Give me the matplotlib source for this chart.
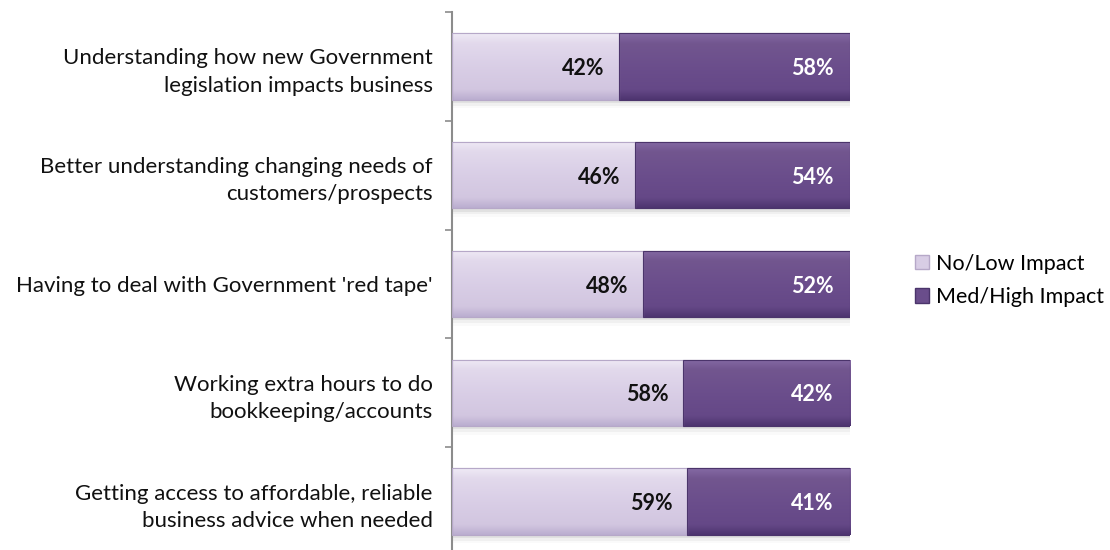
import matplotlib
matplotlib.use("Agg")
import matplotlib.pyplot as plt
from matplotlib.patches import Patch
from matplotlib.colors import LinearSegmentedColormap
import numpy as np

categories = [
    "Understanding how new Government\nlegislation impacts business",
    "Better understanding changing needs of\ncustomers/prospects",
    "Having to deal with Government 'red tape'",
    "Working extra hours to do\nbookkeeping/accounts",
    "Getting access to affordable, reliable\nbusiness advice when needed",
]
no_low = [42, 46, 48, 58, 59]
med_high = [58, 54, 52, 42, 41]
series_names = ["No/Low Impact", "Med/High Impact"]

light = "#D8CDE5"
light_edge = "#B6A8C8"
dark = "#6A4D8B"
dark_edge = "#4B346B"

# top -> bottom shading of each bar segment
light_cmap = LinearSegmentedColormap.from_list(
    "light", [(0.0, "#EFEAF5"), (0.15, "#E2D9EC"), (0.5, "#D9CEE6"),
              (0.85, "#D2C6E0"), (1.0, "#BBAED0")])
dark_cmap = LinearSegmentedColormap.from_list(
    "dark", [(0.0, "#8469A3"), (0.15, "#72568F"), (0.5, "#6B4E8C"),
             (0.85, "#654887"), (1.0, "#4E3570")])

plt.rcParams["font.family"] = ["Lato", "DejaVu Sans"]

fig = plt.figure(figsize=(11.1, 5.5), dpi=100)
ax = fig.add_axes([452 / 1110, -6 / 550, 398 / 1110, 544 / 550])

y = np.arange(len(categories))
h = 0.61

# soft drop shadow under each bar
for yi in y:
    for k, al in enumerate([0.06, 0.04, 0.02]):
        ax.barh(yi + 0.03 + 0.025 * k, 100 + 0.3 * k, left=0.3, height=h,
                color="#000000", alpha=al, zorder=1, linewidth=0)

light_bars = ax.barh(y, no_low, height=h, color=light, edgecolor=light_edge,
                     linewidth=0.8, zorder=2)
dark_bars = ax.barh(y, med_high, left=no_low, height=h, color=dark,
                    edgecolor=dark_edge, linewidth=0.8, zorder=2)

grad = np.linspace(0, 1, 64).reshape(-1, 1)
for bars, cmap in ((light_bars, light_cmap), (dark_bars, dark_cmap)):
    for p in bars:
        x0, y0 = p.get_x(), p.get_y()
        # y axis is inverted, so y0 is the visual top of the bar
        im = ax.imshow(grad, cmap=cmap, aspect="auto", zorder=2.5,
                       extent=(x0, x0 + p.get_width(), y0 + p.get_height(), y0),
                       origin="upper", interpolation="bilinear")
        im.set_clip_path(p)
        edge = plt.Rectangle((x0, y0), p.get_width(), p.get_height(), fill=False,
                             edgecolor=p.get_edgecolor(), linewidth=0.8, zorder=2.6)
        ax.add_patch(edge)

for yi, a, b in zip(y, no_low, med_high):
    ax.text(a - 3.6, yi + 0.02, f"{a}%", ha="right", va="center", fontsize=15.5,
            fontweight="bold", color="#111111", zorder=4)
    ax.text(a + b - 4.2, yi + 0.02, f"{b}%", ha="right", va="center", fontsize=15.5,
            fontweight="bold", color="white", zorder=4)

ax.set_xlim(0, 100)
ax.set_ylim(len(categories) - 0.5, -0.5)
ax.set_yticks(np.arange(-0.5, len(categories), 1.0))
ax.set_yticklabels([])
ax.set_yticks(y, minor=True)
ax.set_yticklabels(categories, minor=True, fontsize=16, color="#111111",
                   ha="right", linespacing=1.45)
ax.tick_params(axis="y", which="minor", length=0, pad=14)
ax.tick_params(axis="y", which="major", length=5, width=1.2, color="#8C8C8C", direction="out")
ax.set_xticks([])
for s in ["top", "right", "bottom"]:
    ax.spines[s].set_visible(False)
ax.spines["left"].set_color("#8C8C8C")
ax.spines["left"].set_linewidth(1.5)

handles = [Patch(facecolor=light, edgecolor=light_edge),
           Patch(facecolor=dark, edgecolor=dark_edge)]
fig.legend(handles, series_names, loc="upper left",
           bbox_to_anchor=(906 / 1110, 1 - 245 / 550),
           frameon=False, fontsize=15.5, handlelength=0.65, handleheight=0.65,
           handletextpad=0.35, labelspacing=0.62, borderaxespad=0)

fig.savefig("out.png", dpi=100)
